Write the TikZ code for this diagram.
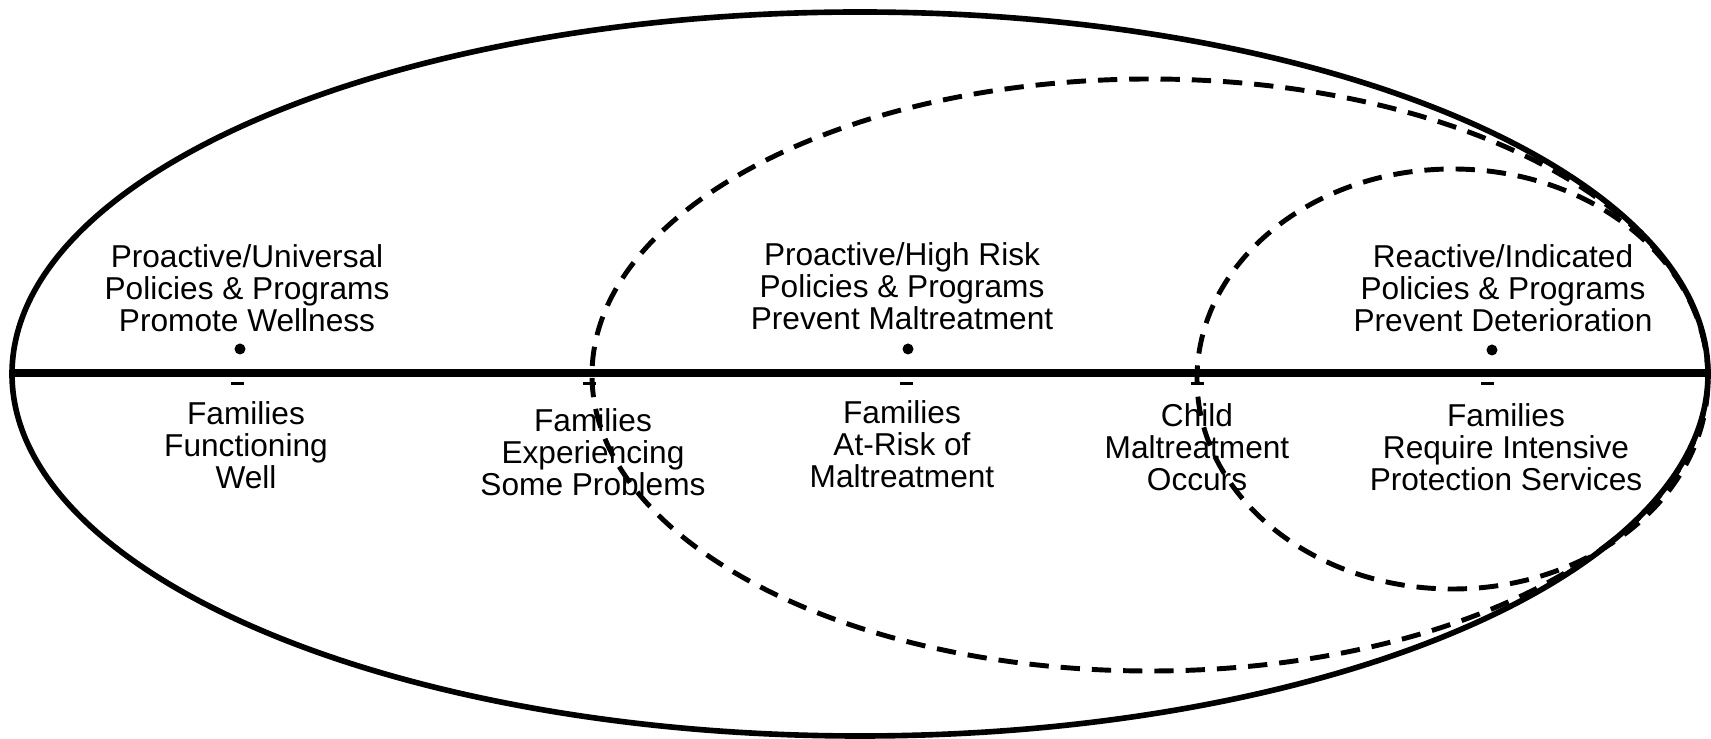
\documentclass[tikz,border=0pt]{standalone}
\usepackage{fontspec}
\setmainfont{Liberation Sans}
\usetikzlibrary{positioning}

\begin{document}
\begin{tikzpicture}[
  line cap=butt,
  line join=round,
  every node/.style={font=\fontsize{9}{9.1}\selectfont, align=center, inner sep=0pt},
  ring/.style={draw=black, line width=1.6pt},
  zone/.style={draw=black, line width=1.4pt, dash pattern=on 5.5pt off 3.4pt},
  axisline/.style={draw=black, line width=2.2pt},
  dotNode/.style={circle, fill=black, minimum size=1.1mm},
  tickNode/.style={rectangle, fill=black, minimum width=1.3mm, minimum height=0.3mm}
]
\useasboundingbox (0,0) rectangle (17.11,7.39);

% ---------- outer ellipse and axis ----------
\draw[ring] (8.60,3.65) ellipse [x radius=8.48, y radius=3.62];
\coordinate (axisL) at (0.12,3.66);
\coordinate (axisR) at (17.08,3.66);
\draw[axisline] (axisL) -- (axisR);

% ---------- dashed zones ----------
\draw[zone] (11.50,3.64) ellipse [x radius=5.58, y radius=2.96];
\draw[zone] (14.525,3.60) ellipse [x radius=2.555, y radius=2.10];

% ---------- dots and policy labels ----------
\node[dotNode] (dotA) at (2.40,3.90) {};
\node[dotNode] (dotB) at (9.08,3.90) {};
\node[dotNode] (dotC) at (14.92,3.89) {};

\node (polA) at (2.47,4.51) {Proactive/Universal\\Policies \& Programs\\Promote Wellness};
\node (polB) at (9.02,4.53) {Proactive/High Risk\\Policies \& Programs\\Prevent Maltreatment};
\node (polC) at (15.03,4.51) {Reactive/Indicated\\Policies \& Programs\\Prevent Deterioration};

% ---------- ticks and family labels ----------
\node[tickNode] (tickA) at (2.37,3.55) {};
\node[tickNode] (tickB) at (5.89,3.55) {};
\node[tickNode] (tickC) at (9.06,3.55) {};
\node[tickNode] (tickD) at (11.97,3.55) {};
\node[tickNode] (tickE) at (14.87,3.55) {};

\node (famA) at (2.46,2.94) {Families\\Functioning\\Well};
\node (famB) at (5.93,2.87) {Families\\Experiencing\\Some Problems};
\node (famC) at (9.02,2.95) {Families\\At-Risk of\\Maltreatment};
\node (famD) at (11.97,2.92) {Child\\Maltreatment\\Occurs};
\node (famE) at (15.06,2.92) {Families\\Require Intensive\\Protection Services};

\end{tikzpicture}
\end{document}
